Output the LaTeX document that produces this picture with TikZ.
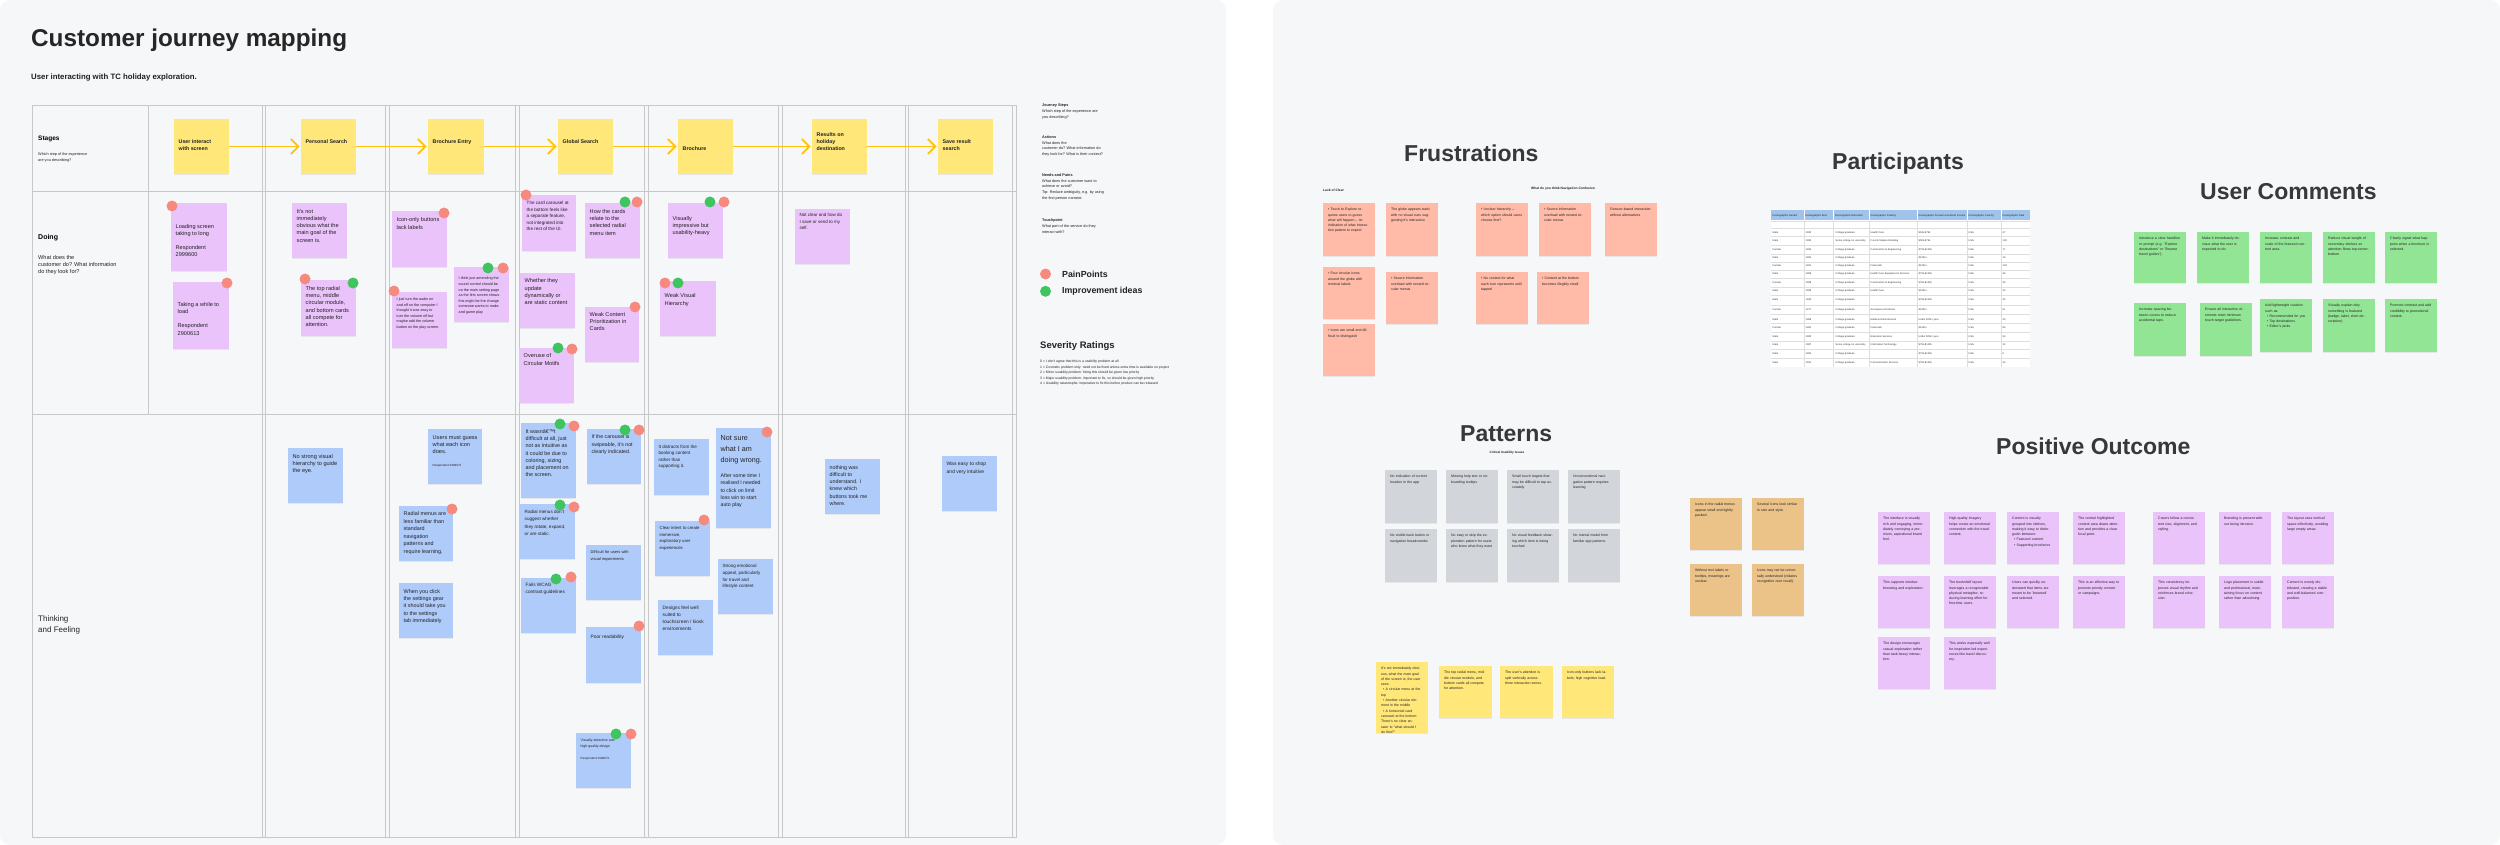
\documentclass[tikz,border=0pt]{standalone}
\usepackage{fontspec}
\setmainfont{Liberation Sans}
\usetikzlibrary{arrows.meta,shadows}
\definecolor{panel}{HTML}{F6F7F9}
\definecolor{gridc}{HTML}{C8C8C8}
\definecolor{styel}{HTML}{FFE77A}
\definecolor{stpur}{HTML}{EAC3FB}
\definecolor{stblu}{HTML}{AFCBFA}
\definecolor{stsal}{HTML}{FFBAA8}
\definecolor{stgrn}{HTML}{93E596}
\definecolor{stgry}{HTML}{D2D5DA}
\definecolor{storg}{HTML}{EBC287}
\definecolor{dotred}{HTML}{F78A7E}
\definecolor{dotgrn}{HTML}{3FC45F}
\definecolor{arrowc}{HTML}{FFC20A}
\definecolor{headc}{HTML}{383838}
\definecolor{tblhead}{HTML}{9FC3EA}
\definecolor{txtc}{HTML}{222222}
\newcommand{\myfs}[2]{\fontsize{#1}{#2}\selectfont}
\newcommand{\fA}{\myfs{5.6}{7.3}}
\newcommand{\fS}{\myfs{5.3}{7.3}\bfseries}
\tikzset{
  stickybox/.style={rectangle, inner sep=0pt, outer sep=0pt, anchor=north west,
    drop shadow={shadow xshift=0pt, shadow yshift=-1pt, opacity=0.13}},
  stxt/.style={anchor=north west, inner sep=0pt, align=left, text=txtc},
  rtxt/.style={anchor=north west, inner sep=0pt, align=left, text=txtc, text width=41pt, font=\myfs{3.5}{5.3}},
  reddot/.style={circle, fill=dotred, inner sep=0pt, minimum size=11pt},
  grndot/.style={circle, fill=dotgrn, inner sep=0pt, minimum size=11pt},
  gridline/.style={draw=gridc, line width=0.9pt},
  tblline/.style={draw=black!13, line width=0.3pt},
  stagearrow/.style={draw=arrowc, line width=1.7pt, -{Straight Barb[length=7.5pt,width=15pt]}, shorten >=1.5pt},
  heading/.style={anchor=base west, inner sep=0pt, font=\myfs{23}{27}\bfseries, text=headc},
  tcell/.style={anchor=west, inner sep=0pt, font=\myfs{2.5}{3}, text=black!80},
  thcell/.style={anchor=west, inner sep=0pt, font=\myfs{2.6}{3}, text=black!85},
  plain/.style={inner sep=0pt, text=txtc},
}
% name, colour, x, y, w, h, text offset, font, text
\newcommand{\stk}[9]{%
  \node[stickybox, fill=#2, minimum width=#5pt, minimum height=#6pt] (#1) at (#3,#4) {};
  \node[stxt, font={#8}] (#1t) at ([xshift=4.5pt,yshift=-#7pt]#1.north west) {#9};%
}
% name, colour, x, y, w, h, text
\newcommand{\rstk}[7]{%
  \node[stickybox, fill=#2, minimum width=#5pt, minimum height=#6pt] (#1) at (#3,#4) {};
  \node[rtxt] (#1t) at ([xshift=5pt,yshift=-5pt]#1.north west) {#7};%
}
\newcommand{\prow}[9]{%
  \node[tcell] (p#1a) at (1772.5,#2) {#3};
  \node[tcell] (p#1b) at (1805.5,#2) {#4};
  \node[tcell] (p#1c) at (1835.5,#2) {#5};
  \node[tcell] (p#1d) at (1870.5,#2) {#6};
  \node[tcell] (p#1e) at (1918.5,#2) {#7};
  \node[tcell] (p#1f) at (1968.5,#2) {#8};
  \node[tcell] (p#1g) at (2002.5,#2) {#9};%
}
\begin{document}
\begin{tikzpicture}[x=1pt,y=-1pt]
\useasboundingbox (0,0) rectangle (2500,845);
\fill[white] (0,0) rectangle (2500,845);
\fill[panel, rounded corners=10pt] (0,0) rectangle (1226,845);
\fill[panel, rounded corners=10pt] (1273,0) rectangle (2500,845);

% ---------------- LEFT PANEL ----------------
\node[anchor=base west, inner sep=0pt, font=\myfs{24.3}{28}\bfseries, text=black!85] (title) at (31,46.7) {Customer journey mapping};
\node[anchor=base west, inner sep=0pt, font=\myfs{7.8}{10}\bfseries, text=black!88] (subtitle) at (31,80) {User interacting with TC holiday exploration.};

% grid
\draw[gridline] (32,105) rectangle (1016,837);
\draw[gridline] (148.5,105) -- (148.5,414);
\draw[gridline] (32,191) -- (1016,191);
\draw[gridline] (32,414) -- (1016,414);
\foreach \a/\b in {262.8/265.4, 385/389, 515/519, 644/648, 778.6/782, 905.4/908.7, 1012/1016}{
  \draw[gridline] (\a,105) -- (\a,837);
  \draw[gridline] (\b,105) -- (\b,837);
}

% row labels
\node[anchor=base west, inner sep=0pt, font=\myfs{6.5}{8}\bfseries] (lblStages) at (38,140.5) {Stages};
\node[anchor=north west, plain, align=left, font=\myfs{3.8}{5.7}] (lblStagesD) at (38,153) {Which step of the experience\\are you describing?};
\node[anchor=base west, inner sep=0pt, font=\myfs{7}{8}\bfseries] (lblDoing) at (38,239.5) {Doing};
\node[anchor=north west, plain, align=left, font=\myfs{5.6}{7.3}] (lblDoingD) at (38,255) {What does the\\customer do? What information\\do they look for?};
\node[anchor=north west, plain, align=left, font=\myfs{8}{11}] (lblThink) at (38,615) {Thinking\\and Feeling};

% stages
\stk{sA}{styel}{174}{119}{55}{55}{20.5}{\fS}{User interact\\with screen}
\stk{sB}{styel}{301}{119}{55}{55}{20.5}{\fS}{Personal Search}
\stk{sC}{styel}{428}{119}{56}{55}{20.5}{\fS}{Brochure Entry}
\stk{sD}{styel}{558}{119}{55}{55}{20.5}{\fS}{Global Search}
\stk{sE}{styel}{678}{119}{55}{55}{27.5}{\fS}{Brochure}
\stk{sF}{styel}{812}{119}{55}{55}{13}{\fS}{Results on\\holiday\\destination}
\stk{sG}{styel}{938}{119}{55}{55}{20.5}{\fS}{Save result\\search}
\draw[stagearrow] (sA.east) -- (sB.west);
\draw[stagearrow] (sB.east) -- (sC.west);
\draw[stagearrow] (sC.east) -- (sD.west);
\draw[stagearrow] (sD.east) -- (sE.west);
\draw[stagearrow] (sE.east) -- (sF.west);
\draw[stagearrow] (sF.east) -- (sG.west);

% doing row
\stk{dA}{stpur}{171}{203}{56}{68}{21}{\fA}{Loading screen\\taking to long\\[6.7pt]Respondent\\2999600}
\stk{dB}{stpur}{173}{282}{56}{67}{20}{\fA}{Taking a while to\\load\\[7pt]Respondent\\2900613}
\stk{dC}{stpur}{292}{203}{55}{55}{6}{\fA}{It's not\\immediately\\obvious what the\\main goal of the\\screen is.}
\stk{dD}{stpur}{301}{280}{55}{56}{6}{\fA}{The top radial\\menu, middle\\circular module,\\and bottom cards\\all compete for\\attention.}
\stk{dE}{stpur}{392}{211}{55}{56}{6.5}{\fA}{Icon-only buttons\\lack labels}
\stk{dF}{stpur}{392}{292}{55}{56}{6}{\myfs{3.7}{5.5}}{I just turn the audio on\\and off on the computer I\\thought it was easy to\\turn the volume off but\\maybe add the volume\\button on the play screen.}
\stk{dG}{stpur}{454}{267}{55}{55}{10}{\myfs{3.7}{5.6}}{I think just amending the\\sound control should be\\on the main setting page\\as the first screen shows\\this might be the change\\someone wants to make\\and game play}
\stk{dH}{stpur}{522}{195}{54}{56}{6}{\myfs{4.6}{6.5}}{The card carousel at\\the bottom feels like\\a separate feature,\\not integrated into\\the rest of the UI.}
\stk{dI}{stpur}{585}{203}{55}{55}{6}{\fA}{How the cards\\relate to the\\selected radial\\menu item}
\stk{dJ}{stpur}{520}{273}{55}{55}{5.5}{\fA}{Whether they\\update\\dynamically or\\are static content}
\stk{dK}{stpur}{585}{307}{54}{55}{5}{\fA}{Weak Content\\Prioritization in\\Cards}
\stk{dL}{stpur}{519}{348}{55}{55}{5.5}{\fA}{Overuse of\\Circular Motifs}
\stk{dM}{stpur}{668}{203}{55}{55}{13}{\fA}{Visually\\impressive but\\usability-heavy}
\stk{dN}{stpur}{660}{281}{56}{55}{12.5}{\fA}{Weak Visual\\Hierarchy}
\stk{dO}{stpur}{795}{209}{55}{55}{4.5}{\myfs{4.5}{6.5}}{Not clear and how do\\I save or send to my\\self.}

% thinking row
\stk{tA}{stblu}{288}{448}{55}{55}{6}{\fA}{No strong visual\\hierarchy to guide\\the eye.}
\stk{tB}{stblu}{428}{429}{54}{55}{6}{\fA}{Users must guess\\what each icon\\does.}
\node[anchor=north west, plain, font=\myfs{3}{4}] (tBr) at (432.5,464.5) {Respondent 2999672};
\stk{tC}{stblu}{399}{506}{54}{55}{5.5}{\myfs{5.4}{7.5}}{Radial menus are\\less familiar than\\standard\\navigation\\patterns and\\require learning.}
\stk{tD}{stblu}{399}{583}{54}{55}{6}{\myfs{5.4}{7.3}}{When you click\\the settings gear\\it should take you\\to the settings\\tab immediately}
\stk{tE}{stblu}{521}{423}{55}{75}{6}{\myfs{5.4}{7.3}}{It wasnâ€™t\\difficult at all, just\\not as intuitive as\\it could be due to\\coloring, sizing\\and placement on\\the screen.}
\stk{tF}{stblu}{587}{429}{54}{55}{6}{\myfs{5.2}{7.3}}{If the carousel is\\swipeable, it's not\\clearly indicated.}
\stk{tG}{stblu}{520}{504}{55}{55}{6}{\myfs{4.6}{7.3}}{Radial menus don't\\suggest whether\\they rotate, expand,\\or are static.}
\stk{tH}{stblu}{586}{545}{55}{55}{5.5}{\myfs{4}{7.3}}{Difficult for users with\\visual impairments}
\stk{tI}{stblu}{521}{578}{55}{55}{5}{\myfs{4.7}{6.7}}{Fails WCAG\\contrast guidelines}
\stk{tJ}{stblu}{586}{627}{55}{56}{7.5}{\myfs{4.8}{7}}{Poor readability}
\stk{tK}{stblu}{576}{733}{55}{55}{5.5}{\myfs{3.5}{6}}{Visually attractive and\\high-quality design}
\node[anchor=north west, plain, font=\myfs{3}{4}] (tKr) at (580.5,757.5) {Respondent 2999672};
\stk{tL}{stblu}{654}{439}{55}{56}{6}{\myfs{4.5}{6.4}}{It distracts from the\\booking content\\rather than\\supporting it.}
\stk{tM}{stblu}{655}{521}{55}{55}{5}{\myfs{4.3}{6.7}}{Clear intent to create\\immersive,\\exploratory user\\experiences}
\stk{tN}{stblu}{658}{600}{55}{55}{5.5}{\myfs{4.8}{7.2}}{Designs feel well\\suited to\\touchscreen / kiosk\\environments}
\stk{tO}{stblu}{716}{428}{55}{100}{7}{\myfs{7.2}{11}}{Not sure\\what I am\\doing wrong.}
\node[anchor=north west, plain, align=left, font=\myfs{5.2}{7.3}] (tOs) at (720.5,473.5) {After some time I\\realised I needed\\to click on limit\\loss win to start\\auto play};
\stk{tP}{stblu}{718}{559}{55}{55}{5.5}{\myfs{4.5}{6.6}}{Strong emotional\\appeal, particularly\\for travel and\\lifestyle content}
\stk{tQ}{stblu}{825}{459}{55}{55}{6}{\myfs{5.3}{7.3}}{nothing was\\difficult to\\understand. I\\knew which\\buttons took me\\where.}
\stk{tR}{stblu}{942}{456}{55}{55}{6}{\myfs{5}{7.3}}{Was easy to shop\\and very intuitive}

% dots
\node[reddot] (xd1) at (172,206) {};
\node[reddot] (xd2) at (227,283) {};
\node[reddot] (xd3) at (305,279) {};
\node[grndot] (xd4) at (353,283) {};
\node[reddot] (xd5) at (444,213) {};
\node[reddot] (xd6) at (394,291) {};
\node[grndot] (xd7) at (488,268) {};
\node[reddot] (xd8) at (503,268) {};
\node[reddot] (xd9) at (526,195) {};
\node[grndot] (xd10) at (625,202) {};
\node[reddot] (xd11) at (637,202) {};
\node[reddot] (xd12) at (635,307) {};
\node[grndot] (xd13) at (558,348) {};
\node[reddot] (xd14) at (572,349) {};
\node[grndot] (xd15) at (710,202) {};
\node[reddot] (xd16) at (724,202) {};
\node[reddot] (xd17) at (665,283) {};
\node[grndot] (xd18) at (678,283) {};
\node[reddot] (xt1) at (452,509) {};
\node[grndot] (xt2) at (560,424) {};
\node[reddot] (xt3) at (574,426) {};
\node[grndot] (xt4) at (625,430) {};
\node[reddot] (xt5) at (639,430) {};
\node[grndot] (xt6) at (560,505) {};
\node[reddot] (xt7) at (574,507) {};
\node[grndot] (xt8) at (556,579) {};
\node[reddot] (xt9) at (571,577) {};
\node[reddot] (xt10) at (639,626) {};
\node[grndot] (xt11) at (616,734) {};
\node[reddot] (xt12) at (631,734) {};
\node[reddot] (xt13) at (704,520) {};
\node[reddot] (xt14) at (767,432) {};

% legend
\node[anchor=north west, plain, align=left, font=\myfs{3.8}{5.7}] (lgJ) at (1042,104) {\textbf{Journey Steps}\\Which step of the experience are\\you describing?};
\node[anchor=north west, plain, align=left, font=\myfs{3.8}{5.7}] (lgA) at (1042,135.5) {\textbf{Actions}\\What does the\\customer do? What information do\\they look for? What is their context?};
\node[anchor=north west, plain, align=left, font=\myfs{3.8}{5.7}] (lgN) at (1042,173.5) {\textbf{Needs and Pains}\\What does the customer want to\\achieve or avoid?\\Tip: Reduce ambiguity, e.g. by using\\the first person narrator.};
\node[anchor=north west, plain, align=left, font=\myfs{3.8}{5.7}] (lgT) at (1042,219) {\textbf{Touchpoint}\\What part of the service do they\\interact with?};
\node[reddot] (lgDotP) at (1045.5,274) {};
\node[grndot] (lgDotI) at (1045.5,291.3) {};
\node[anchor=west, plain, font=\myfs{8.8}{10}\bfseries] (lgPain) at (1062,274) {PainPoints};
\node[anchor=west, plain, font=\myfs{8.8}{10}\bfseries] (lgImp) at (1062,291.3) {Improvement ideas};
\node[anchor=west, plain, font=\myfs{9.5}{11}\bfseries] (lgSev) at (1040,345.7) {Severity Ratings};
\node[anchor=north west, plain, align=left, font=\myfs{3.4}{5.5}] (lgSevT) at (1040,360) {0 = I don't agree that this is a usability problem at all\\1 = Cosmetic problem only: need not be fixed unless extra time is available on project\\2 = Minor usability problem: fixing this should be given low priority\\3 = Major usability problem: important to fix, so should be given high priority\\4 = Usability catastrophe: imperative to fix this before product can be released};

% ---------------- RIGHT PANEL ----------------
\node[heading] (hFru) at (1404,161.7) {Frustrations};
\node[heading] (hPar) at (1832,170) {Participants};
\node[heading] (hUC) at (2200,200) {User Comments};
\node[heading] (hPat) at (1460,441) {Patterns};
\node[heading] (hPos) at (1996,454) {Positive Outcome};

\node[anchor=west, plain, font=\myfs{3.3}{4}\bfseries] (fLack) at (1323,190) {Lack of Clear};
\node[plain, font=\myfs{3.3}{4}\bfseries] (fNav) at (1563,189) {What do you think Navigation Confusion};
\node[plain, font=\myfs{3.1}{4}\bfseries] (pCrit) at (1507,452.3) {Critical Usability Issues};

% frustrations
\rstk{fA}{stsal}{1323}{203}{52}{53}{• Touch to Explore requires users to guess what will happen – no indication of what interaction pattern to expect}
\rstk{fB}{stsal}{1386}{203}{52}{53}{The globe appears static with no visual cues suggesting it's interactive}
\rstk{fC}{stsal}{1476}{203}{52}{53}{• Unclear hierarchy – which option should users choose first?}
\rstk{fD}{stsal}{1539}{203}{52}{53}{• Severe information overload with nested circular menus}
\rstk{fE}{stsal}{1605}{203}{52}{53}{Gesture-based interaction without alternatives}
\rstk{fF}{stsal}{1323}{267}{52}{52}{• Four circular icons around the globe with minimal labels}
\rstk{fG}{stsal}{1386}{272}{52}{52}{• Severe information overload with nested circular menus}
\rstk{fH}{stsal}{1476}{272}{52}{52}{• No context for what each icon represents until tapped}
\rstk{fI}{stsal}{1537}{272}{52}{52}{• Content at the bottom becomes illegibly small}
\rstk{fJ}{stsal}{1323}{324}{52}{52}{• Icons are small and difficult to distinguish}

% participants table
\begin{scope}
\clip (1771,210) rectangle (2030,367);
\fill[white] (1771,210) rectangle (2030,367);
\fill[tblhead] (1771,210) rectangle (2030,220);
\foreach \yy in {221,228.3,236.5,245,254,262,270,278,287,295.5,305,314.5,323,332,341,349,358}{
  \draw[tblline] (1771,\yy) -- (2030,\yy);
}
\foreach \xx in {1804,1833,1869,1917,1967,2001}{
  \draw[tblline] (\xx,220) -- (\xx,367);
  \draw[white, line width=0.4pt] (\xx,210) -- (\xx,220);
}
\node[thcell] (ph1) at (1772.5,215.5) {Demographic Gender};
\node[thcell] (ph2) at (1805.5,215.5) {Demographic Born};
\node[thcell] (ph3) at (1835,215.5) {Demographic Education};
\node[thcell] (ph4) at (1870.5,215.5) {Demographic Industry};
\node[thcell] (ph5) at (1918.5,215.5) {Demographic Annual Household Income};
\node[thcell] (ph6) at (1968.5,215.5) {Demographic Country};
\node[thcell] (ph7) at (2002.5,215.5) {Demographic Date};
\prow{1}{232.5}{Male}{1990}{College graduate}{Health Care}{\$50k-\$75k}{USA}{47}
\prow{2}{240.5}{Male}{1990}{Some college no university}{Food \& Staples Retailing}{\$50k-\$75k}{USA}{100}
\prow{3}{249.5}{Female}{1990}{College graduate}{Construction \& Engineering}{\$75k-\$100k}{USA}{71}
\prow{4}{258}{Male}{1982}{College graduate}{}{\$100k+}{USA}{16}
\prow{5}{266}{Female}{1991}{College graduate}{Financials}{\$100k+}{USA}{100}
\prow{6}{274}{Male}{1989}{College graduate}{Health Care Equipment \& Services}{\$75k-\$100k}{USA}{48}
\prow{7}{282.5}{Female}{1988}{College graduate}{Construction \& Engineering}{\$75k-\$100k}{USA}{49}
\prow{8}{291}{Male}{1986}{College graduate}{Health Care}{\$100k+}{USA}{40}
\prow{9}{300}{Male}{1990}{College graduate}{}{\$75k-\$100k}{USA}{40}
\prow{10}{310}{Female}{1977}{College graduate}{Aerospace \& Defense}{\$100k+}{USA}{51}
\prow{11}{319.5}{Male}{1988}{College graduate}{Media \& Entertainment}{Under \$25k / year}{USA}{40}
\prow{12}{327.5}{Female}{1981}{College graduate}{Financials}{\$100k+}{USA}{86}
\prow{13}{336.5}{Male}{1983}{College graduate}{Education Services}{Under \$25k / year}{USA}{54}
\prow{14}{345}{Male}{1987}{Some college no university}{Information Technology}{\$75k-\$100k}{USA}{15}
\prow{15}{353.5}{Male}{1982}{College graduate}{}{\$75k-\$100k}{USA}{5}
\prow{16}{362.5}{Male}{1991}{College graduate}{Communication Services}{\$75k-\$100k}{USA}{43}
\end{scope}

% user comments
\rstk{uA}{stgrn}{2134}{232}{52}{51}{Introduce a clear headline or prompt (e.g. "Explore destinations" or "Browse travel guides").}
\rstk{uB}{stgrn}{2197}{232}{52}{51}{Make it immediately obvious what the user is expected to do.}
\rstk{uC}{stgrn}{2260}{232}{52}{51}{Increase contrast and scale of the featured content area.}
\rstk{uD}{stgrn}{2323}{232}{52}{51}{Reduce visual weight of secondary shelves so attention flows top-center-bottom.}
\rstk{uE}{stgrn}{2385}{232}{52}{51}{Clearly signal what happens when a brochure is selected.}
\rstk{uF}{stgrn}{2134}{303}{52}{53}{Increase spacing between covers to reduce accidental taps.}
\rstk{uG}{stgrn}{2200}{303}{52}{53}{Ensure all interactive elements meet minimum touch target guidelines.}
\rstk{uH}{stgrn}{2260}{299}{52}{53}{Add lightweight curation such as:\\\hspace*{2pt}• Recommended for you\\\hspace*{2pt}• Top destinations\\\hspace*{2pt}• Editor's picks}
\rstk{uI}{stgrn}{2323}{299}{52}{53}{Visually explain why something is featured (badge, label, short description).}
\rstk{uJ}{stgrn}{2385}{299}{52}{53}{Promote contrast and add credibility to promotional content.}

% patterns
\rstk{gA}{stgry}{1385}{470}{52}{53}{No indication of current location in the app}
\rstk{gB}{stgry}{1446}{470}{52}{53}{Missing help text or onboarding tooltips}
\rstk{gC}{stgry}{1507}{470}{52}{53}{Small touch targets that may be difficult to tap accurately}
\rstk{gD}{stgry}{1568}{470}{52}{53}{Unconventional navigation pattern requires learning}
\rstk{gE}{stgry}{1385}{529}{52}{53}{No visible back button or navigation breadcrumbs}
\rstk{gF}{stgry}{1446}{529}{52}{53}{No easy to skip the exploration pattern for users who know what they want}
\rstk{gG}{stgry}{1507}{529}{52}{53}{No visual feedback showing which item is being touched}
\rstk{gH}{stgry}{1568}{529}{52}{53}{No mental model from familiar app patterns}

\rstk{oA}{storg}{1690}{498}{52}{52}{Icons in the radial menus appear small and tightly packed.}
\rstk{oB}{storg}{1752}{498}{52}{52}{Several icons look similar in size and style.}
\rstk{oC}{storg}{1690}{564}{52}{52}{Without text labels or tooltips, meanings are unclear.}
\rstk{oD}{storg}{1752}{564}{52}{52}{Icons may not be universally understood (violates recognition over recall).}

\rstk{yA}{styel}{1376}{662}{52}{71}{It's not immediately obvious, what the main goal of the screen is, the user sees:\\\hspace*{2pt}• A circular menu at the top\\\hspace*{2pt}• Another circular element in the middle\\\hspace*{2pt}• A horizontal card carousel at the bottom\\There's no clear answer to "what should I do first?"}
\rstk{yB}{styel}{1439}{666}{53}{52}{The top radial menu, middle circular module, and bottom cards all compete for attention.}
\rstk{yC}{styel}{1500}{666}{53}{52}{The user's attention is split vertically across three interaction zones.}
\rstk{yD}{styel}{1562}{666}{52}{52}{Icon-only buttons lack labels; high cognitive load.}

% positive outcome
\rstk{qA}{stpur}{1878}{512}{52}{52}{The interface is visually rich and engaging, immediately conveying a premium, aspirational brand feel.}
\rstk{qB}{stpur}{1944}{512}{52}{52}{High-quality imagery helps create an emotional connection with the travel content.}
\rstk{qC}{stpur}{2007}{512}{52}{52}{Content is visually grouped into shelves, making it easy to distinguish between:\\\hspace*{2pt}• Featured content\\\hspace*{2pt}• Supporting brochures}
\rstk{qD}{stpur}{2073}{512}{52}{52}{The central highlighted content area draws attention and provides a clear focal point.}
\rstk{qE}{stpur}{2153}{512}{52}{52}{Covers follow a consistent size, alignment, and styling.}
\rstk{qF}{stpur}{2219}{512}{52}{52}{Branding is present without being intrusive.}
\rstk{qG}{stpur}{2282}{512}{52}{52}{The layout uses vertical space effectively, avoiding large empty areas.}
\rstk{qH}{stpur}{1878}{576}{52}{52}{This supports intuitive browsing and exploration.}
\rstk{qI}{stpur}{1944}{576}{52}{52}{The bookshelf layout leverages a recognizable physical metaphor, reducing learning effort for first-time users.}
\rstk{qJ}{stpur}{2007}{576}{52}{52}{Users can quickly understand that items are meant to be 'browsed' and selected.}
\rstk{qK}{stpur}{2073}{576}{52}{52}{This is an effective way to promote priority content or campaigns.}
\rstk{qL}{stpur}{2153}{576}{52}{52}{This consistency improves visual rhythm and reinforces brand cohesion.}
\rstk{qM}{stpur}{2219}{576}{52}{52}{Logo placement is subtle and professional, maintaining focus on content rather than advertising.}
\rstk{qN}{stpur}{2282}{576}{52}{52}{Content is evenly distributed, creating a stable and well-balanced composition.}
\rstk{qO}{stpur}{1878}{637}{52}{52}{The design encourages casual exploration rather than task-heavy interaction.}
\rstk{qP}{stpur}{1944}{637}{52}{52}{This works especially well for inspiration-led experiences like travel discovery.}
\end{tikzpicture}
\end{document}
